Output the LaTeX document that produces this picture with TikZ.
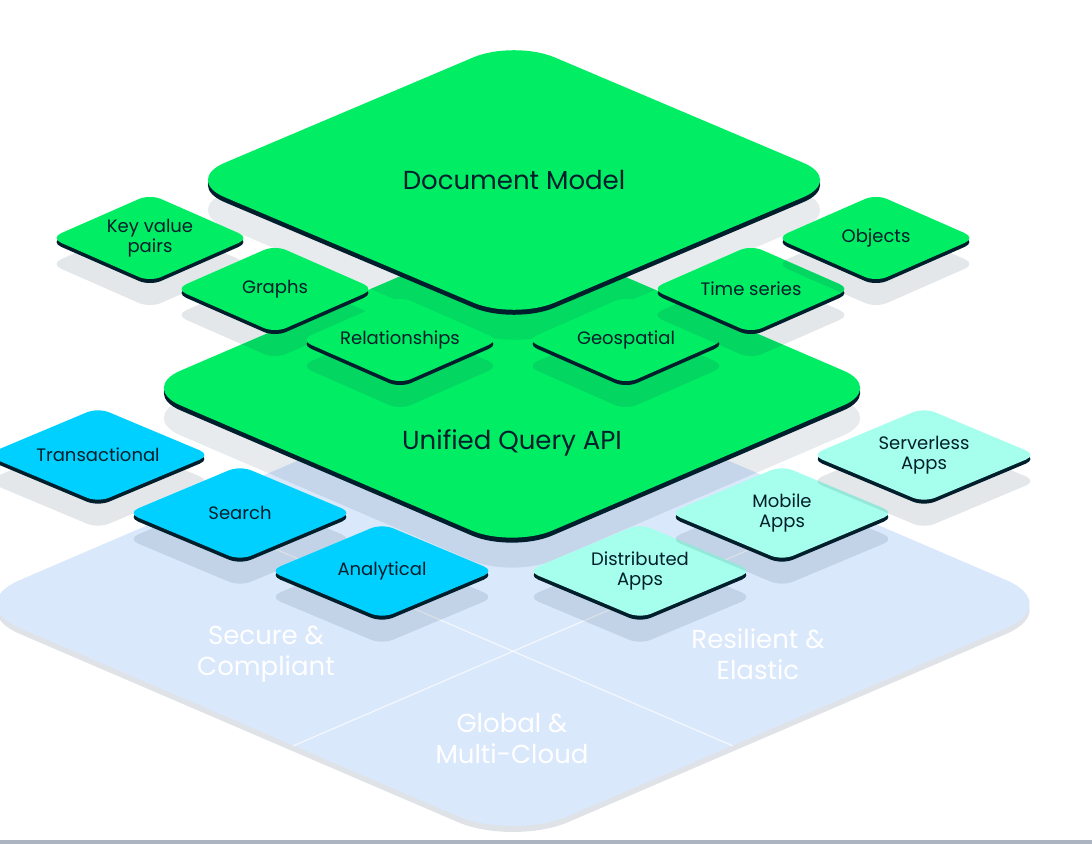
\documentclass[tikz,border=0pt]{standalone}
\usepackage{fontspec}
\setmainfont{Poppins}
\usetikzlibrary{positioning,calc,shapes.geometric,shadows}
\definecolor{mgreen}{RGB}{0,237,100}
\definecolor{mslate}{RGB}{0,30,43}
\definecolor{mblue}{RGB}{0,208,255}
\definecolor{mmint}{RGB}{166,255,236}
\definecolor{baseblue}{RGB}{218,232,252}
\definecolor{baseedge}{RGB}{223,227,232}
\definecolor{shadowc}{RGB}{30,60,80}
\definecolor{rulec}{RGB}{172,180,194}
\newcommand{\layerfont}{\fontsize{13pt}{15pt}\selectfont}
\newcommand{\tilefont}{\fontsize{9pt}{10pt}\selectfont}
\newcommand{\groundfont}{\fontsize{13pt}{15.5pt}\selectfont}
\tikzset{
layer/.style={diamond, inner sep=0pt, shape aspect=2.3, rounded corners=22pt, fill=mgreen, text=mslate, font=\layerfont, general shadow={fill=shadowc, fill opacity=0.1, shadow yshift=-15pt}, general shadow={fill=mslate, shadow yshift=-2.5pt}},
tile/.style={diamond, inner sep=0pt, shape aspect=2.3, rounded corners=6pt, fill=mgreen, text=mslate, font=\tilefont, align=center, minimum width=100pt, minimum height=44pt, general shadow={fill=shadowc, fill opacity=0.12, shadow yshift=-13pt}, general shadow={fill=mslate, shadow yshift=-2pt}},
workload/.style={tile, fill=mblue, minimum width=113pt, minimum height=47.5pt},
app/.style={workload, fill=mmint},
ground/.style={diamond, inner sep=0pt, rounded corners=30pt, fill=baseblue, minimum width=549pt, minimum height=236pt, general shadow={fill=baseedge, shadow yshift=-3pt}},
groundtext/.style={text=white, font=\groundfont, align=center},
split/.style={white, line width=0.6pt, opacity=0.7}
}

\begin{document}
\begin{tikzpicture}[x=0.5pt, y=-0.5pt, on grid]
    \useasboundingbox (0,0) rectangle (1092,844);
    \fill[rulec] (0,840) rectangle (1092,844);

    % ground layer
    \node[ground] (base) at (513,604) {};
    \draw[split] ($(base.west)!0.6!(base.south)$) -- ($(base.north)!0.6!(base.east)$);
    \draw[split] ($(base.east)!0.6!(base.south)$) -- ($(base.north)!0.6!(base.west)$);
    \node[groundtext] (secure) at (266,654) {Secure \&\\Compliant};
    \node[groundtext] (resilient) at (758,654) {Resilient \&\\Elastic};
    \node[groundtext] (global) at (512,738) {Global \&\\Multi-Cloud};

    % green layers
    \node[layer, minimum width=372pt, minimum height=160pt, label={[font=\layerfont, text=mslate, yshift=-27.5pt]center:Unified Query API}] (api) at (512,388) {};
    \node[layer, minimum width=330pt, minimum height=140pt] (doc) at (514,180) {Document Model};

    \node[tile] (kv) at (150,238) {Key value\\pairs};
    \node[tile, below right=25.5pt and 62.5pt of kv] (graphs) {Graphs};
    \node[tile, below right=25.5pt and 62.5pt of graphs] (rel) {Relationships};
    \node[tile, right=113pt of rel] (geo) {Geospatial};
    \node[tile, above right=25.5pt and 62.5pt of geo] (ts) {Time series};
    \node[tile, above right=25.5pt and 62.5pt of ts] (obj) {Objects};

    % workloads and apps
    \node[workload] (trans) at (98,455) {Transactional};
    \node[workload, below right=29pt and 71pt of trans] (search) {Search};
    \node[workload, below right=29pt and 71pt of search] (ana) {Analytical};
    \node[app, right=129pt of ana] (dist) {Distributed\\Apps};
    \node[app, above right=29pt and 71pt of dist] (mobile) {Mobile\\Apps};
    \node[app, above right=29pt and 71pt of mobile] (serverless) {Serverless\\Apps};
\end{tikzpicture}
\end{document}
